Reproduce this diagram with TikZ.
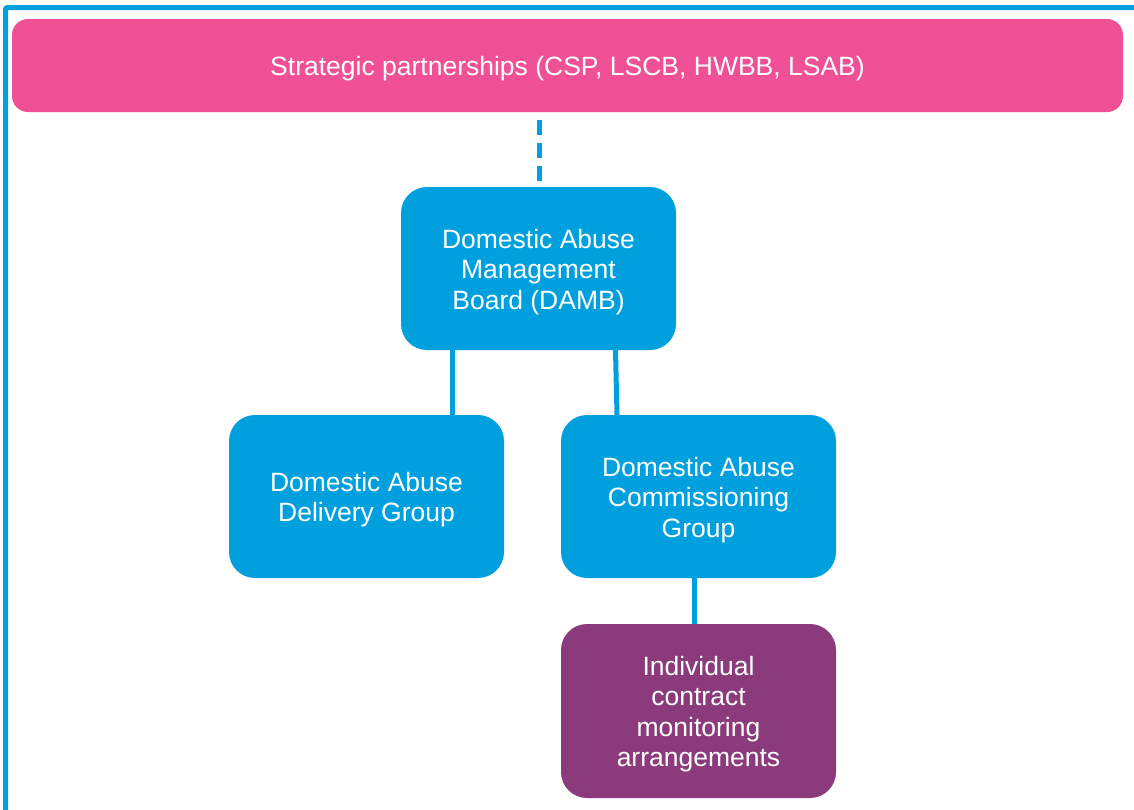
\documentclass[tikz,border=0pt]{standalone}
\usepackage{fontspec}
\setmainfont{Liberation Sans}
\definecolor{partnerpink}{RGB}{240,80,150}
\definecolor{boardblue}{RGB}{0,160,223}
\definecolor{contractpurple}{RGB}{139,58,124}
% set box text a little below the geometric centre, keeping the box size
\newcommand{\boxlines}[1]{\raisebox{-4pt}[\height][\depth]{\begin{tabular}{@{}c@{}}#1\end{tabular}}}
\begin{document}
\begin{tikzpicture}[x=1pt,y=-1pt,
  box/.style={rectangle, rounded corners=26pt, minimum width=275pt, minimum height=163pt,
    fill=boardblue, text=white, align=center, font=\fontsize{26.5}{30.5}\selectfont, inner sep=0pt},
  link/.style={draw=boardblue, line width=5pt},
  frame/.style={draw=boardblue, line width=5pt}]
\useasboundingbox (0,0) rectangle (1134,809);
\begin{scope}
\clip (0,0) rectangle (1134,809);
% outer frame, running past the page edge
\draw[frame, rounded corners=2pt] (5.5,7.5) rectangle (1160,840);
\end{scope}
% top partnership bar
\node[box, fill=partnerpink, rounded corners=16pt, minimum width=1111pt, minimum height=93pt]
  (partners) at (567.5,65.5) {\boxlines{Strategic partnerships (CSP, LSCB, HWBB, LSAB)}};
% boards and groups
\node[box] (damb) at (538.5,268.5) {\boxlines{Domestic Abuse\\Management\\Board (DAMB)}};
\node[box] (delivery) at (366.5,496.5) {\boxlines{Domestic Abuse\\Delivery Group}};
\node[box] (commissioning) at (698.5,496.5) {\boxlines{Domestic Abuse\\Commissioning\\Group}};
\node[box, fill=contractpurple, minimum height=174pt] (contracts) at (698.5,711)
  {\boxlines{Individual\\contract\\monitoring\\arrangements}};
% connectors
\coordinate (dashtop) at (539,120);
\draw[link, dash pattern=on 15pt off 8pt] (dashtop) -- (dashtop |- damb.north);
\draw[link] ([xshift=-86.5pt]damb.south) -- ([xshift=-86.5pt]damb.south |- delivery.north);
\draw[link] ([xshift=77pt]damb.south) -- ([xshift=78.5pt]damb.south |- commissioning.north);
\draw[link] ([xshift=-4.5pt]commissioning.south) -- ([xshift=-4.5pt]commissioning.south |- contracts.north);
\end{tikzpicture}
\end{document}
